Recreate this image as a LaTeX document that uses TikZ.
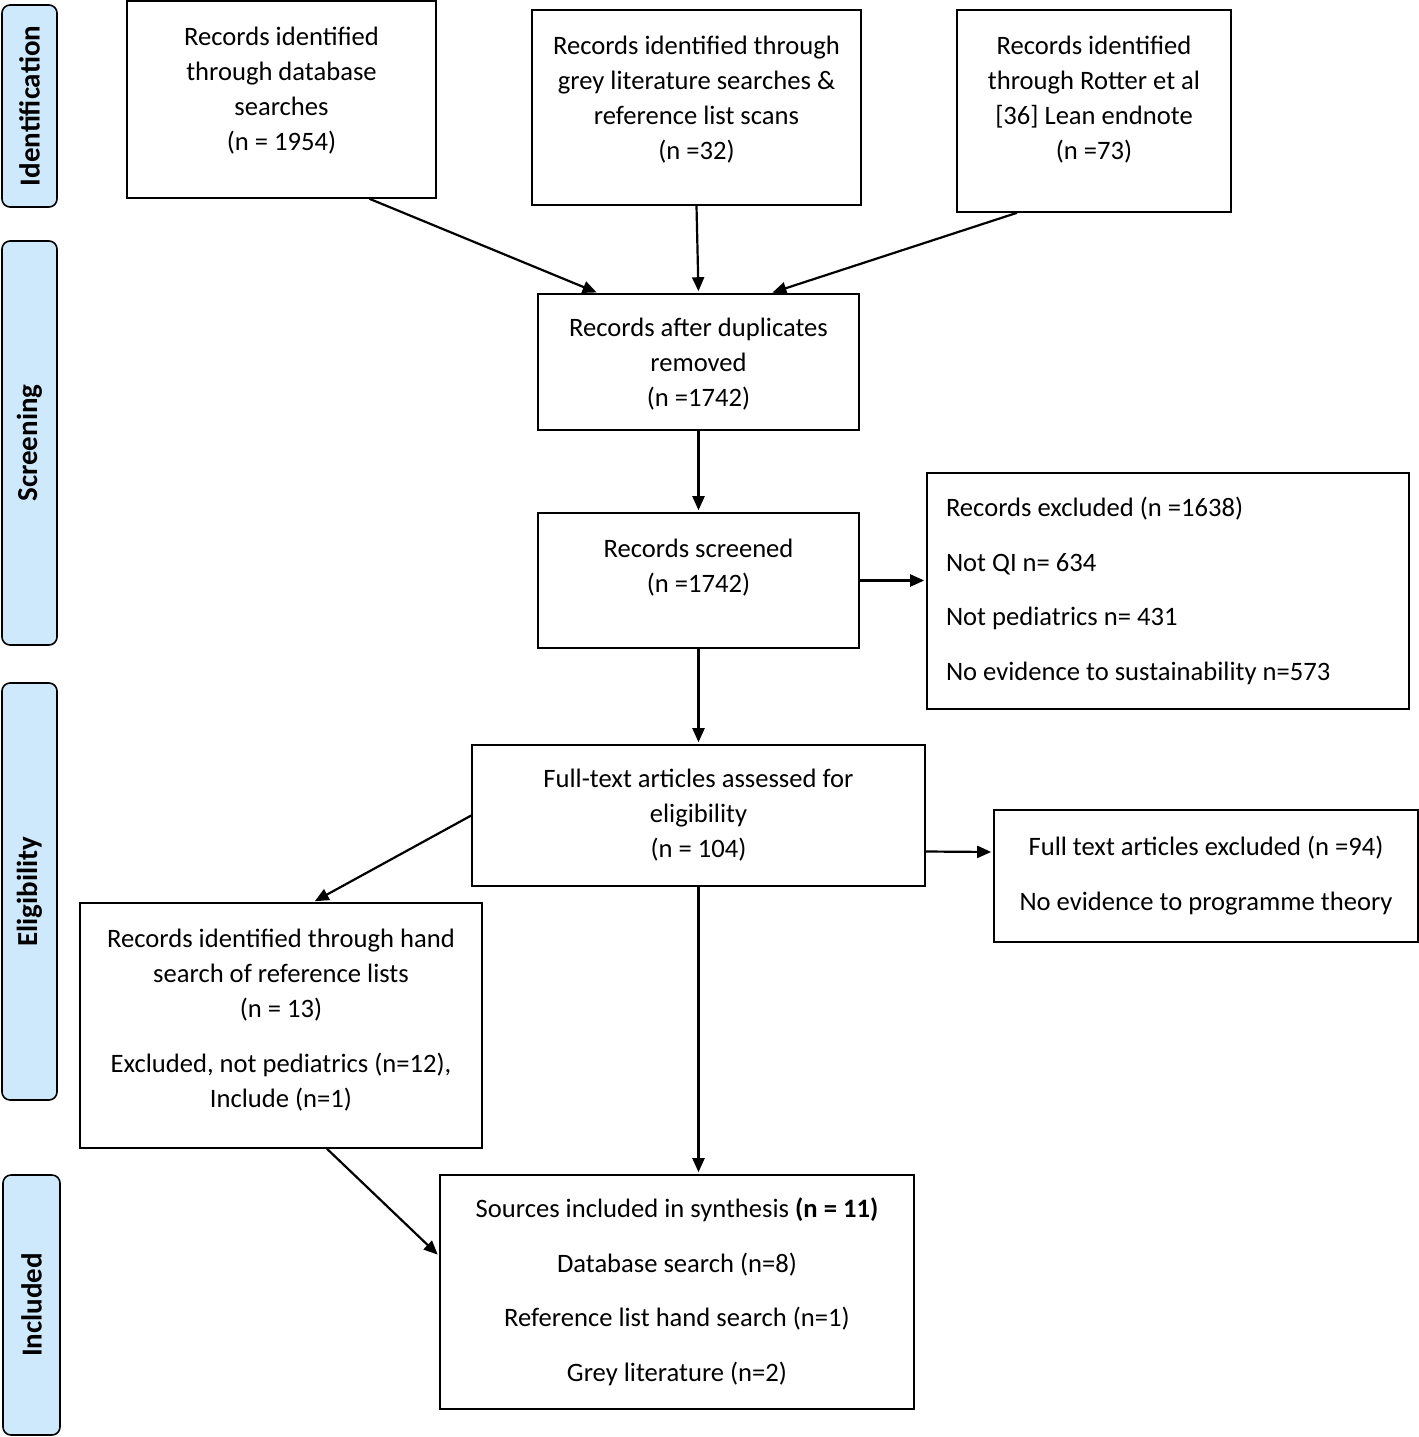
\documentclass[tikz,border=0pt]{standalone}
\usepackage{fontspec}
\setmainfont{Carlito}
\usetikzlibrary{arrows.meta,positioning}

\definecolor{phaseblue}{HTML}{CFE9FC}

\begin{document}
\begin{tikzpicture}[%
    x=0.5pt, y=-0.5pt,
    >={Triangle[length=7pt,width=6pt]},
    shorten >=1pt,
    font=\fontsize{13.3}{17.5}\selectfont,
    box/.style={draw, line width=0.8pt, align=center, inner sep=4pt},
    listbox/.style={draw, line width=0.8pt, align=flush left, inner xsep=9.5pt},
    phase/.style={draw, line width=0.8pt, fill=phaseblue, rounded corners=4pt,
                  rotate=90, minimum height=27.5pt, font=\fontsize{14.5}{16}\selectfont\bfseries},
    flow/.style={->, line width=1.1pt}
  ]
    \useasboundingbox (0,0) rectangle (1419,1437);

    % phase labels
    \node[phase, minimum width=101pt]  (idn) at (29.5,106)   {Identification};
    \node[phase, minimum width=202pt]  (scr) at (29.5,443)   {Screening};
    \node[phase, minimum width=208.5pt] (elg) at (29.5,891.5) {Eligibility};
    \node[phase, minimum width=130pt, minimum height=28.5pt] (inc) at (31.5,1305) {Included};

    % identification
    \node[box, minimum width=154.5pt, minimum height=98.5pt, text depth=11pt] (dbase) at (281.5,99.5)
        {Records identified\\through database\\searches\\(n = 1954)};
    \node[box, minimum width=164.5pt, minimum height=97.5pt, text depth=10pt] (grey) at (696.5,107.5)
        {Records identified through\\grey literature searches \&\\reference list scans\\(n =32)};
    \node[box, minimum width=137pt, minimum height=101pt, text depth=13.5pt] (rotter) at (1094,111)
        {Records identified\\through Rotter et al\\{[36]} Lean endnote\\(n =73)};

    % screening
    \node[box, minimum width=160.5pt, minimum height=68pt, text depth=0pt] (dupl) at (698.5,362)
        {Records after duplicates\\removed\\(n =1742)};
    \node[box, minimum width=160.5pt, minimum height=67.5pt, text depth=15pt] (scrd) at (698.5,580.5)
        {Records screened\\(n =1742)};
    \node[listbox, text width=222pt, minimum height=118pt] (excl) at (1168,591)
        {Records excluded (n =1638)\\[9.75pt]Not QI n= 634\\[9.75pt]Not pediatrics n= 431\\[9.75pt]No evidence to sustainability n=573};

    % eligibility
    \node[box, minimum width=226.5pt, minimum height=70.5pt] (full) at (698.5,815.5)
        {Full-text articles assessed for\\eligibility\\(n = 104)};
    \node[box, minimum width=212pt, minimum height=66pt] (fexcl) at (1206,876)
        {Full text articles excluded (n =94)\\[10pt]No evidence to programme theory};
    \node[box, minimum width=201pt, minimum height=122.5pt, text depth=7.5pt] (hand) at (281,1025.5)
        {Records identified through hand\\search of reference lists\\(n = 13)\\[10pt]Excluded, not pediatrics (n=12),\\Include (n=1)};

    % included
    \node[box, minimum width=237pt, minimum height=117pt] (incl) at (677,1292)
        {Sources included in synthesis \textbf{(n = 11)}\\[9.75pt]Database search (n=8)\\[9.75pt]Reference list hand search (n=1)\\[9.75pt]Grey literature (n=2)};

    \path[flow] ([xshift=44pt]dbase.south)    edge ([xshift=-50pt]dupl.north)
                (grey.south)                  edge (dupl.north)
                ([xshift=-38.5pt]rotter.south) edge ([xshift=36pt]dupl.north)
                (dupl.south)                  edge (scrd.north)
                (scrd.east)                   edge (scrd.east -| excl.west)
                (scrd.south)                  edge (full.north)
                ([yshift=-18pt]full.east)     edge ([yshift=12pt]fexcl.west)
                (full.west)                   edge ([xshift=16pt]hand.north)
                (full.south)                  edge (full.south |- incl.north)
                ([xshift=23pt]hand.south)     edge ([yshift=18pt]incl.west);
\end{tikzpicture}
\end{document}
